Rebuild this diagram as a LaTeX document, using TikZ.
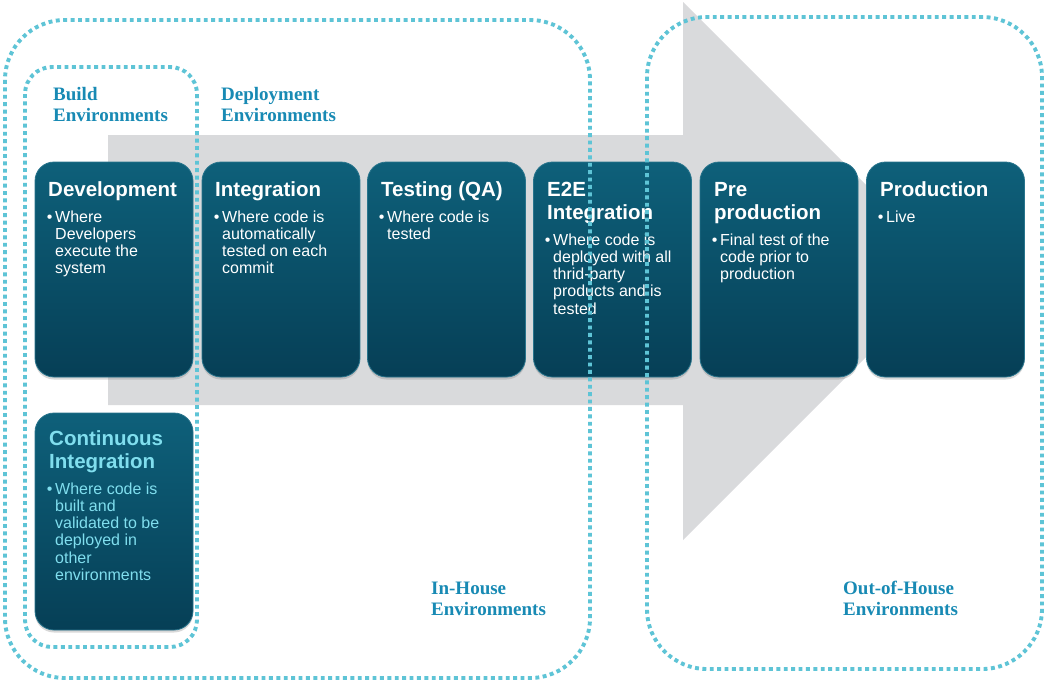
\documentclass[tikz,border=0pt]{standalone}
\usepackage{fontspec}
\setmainfont{Liberation Sans}
\newfontfamily\labelfont{Liberation Serif}
\usetikzlibrary{shadows}
\definecolor{arrowgray}{RGB}{217,218,220}
\definecolor{dotcol}{RGB}{94,196,214}
\definecolor{boxtop}{RGB}{14,96,122}
\definecolor{boxbot}{RGB}{6,63,86}
\definecolor{boxedge}{RGB}{40,116,140}
\definecolor{labcol}{RGB}{24,138,180}
\definecolor{cicol}{RGB}{128,222,238}
\begin{document}
\begin{tikzpicture}[x=1pt,y=-1pt,
 stage/.style={rectangle, rounded corners=19pt, minimum width=158pt, minimum height=215pt, inner sep=0pt, top color=boxtop, bottom color=boxbot, draw=boxedge, line width=0.8pt, drop shadow={shadow xshift=0pt, shadow yshift=-2.5pt, opacity=0.3}},
 stagetitle/.style={anchor=north west, inner sep=0pt, align=left, text=white, font=\fontsize{20.5}{23}\selectfont\bfseries},
 stagebody/.style={anchor=north west, inner sep=0pt, align=left, text=white, font=\fontsize{16}{17.2}\selectfont},
 envlabel/.style={anchor=north west, inner sep=0pt, align=left, text=labcol, font=\labelfont\fontsize{19}{21}\selectfont\bfseries},
 dotline/.style={draw=dotcol, line width=3.9pt, dash pattern=on 3.9pt off 3.5pt}]
\useasboundingbox (0,0) rectangle (1048,681);
\fill[white] (0,0) rectangle (1048,681);
% big gray arrow
\fill[arrowgray] (108,135) -- (683,135) -- (683,2) -- (952,271) -- (683,540) -- (683,405) -- (108,405) -- cycle;
% stage boxes
\node[stage] (dev) at (114,269.5) {};
\node[stage] (integ) at (281,269.5) {};
\node[stage] (test) at (446.5,269.5) {};
\node[stage] (e2e) at (612.5,269.5) {};
\node[stage] (pre) at (779,269.5) {};
\node[stage] (prod) at (945.5,269.5) {};
\node[stage, minimum height=217pt] (ci) at (114,521.5) {};
% titles
\node[stagetitle] (devT) at (48,180) {\strut Development};
\node[stagetitle] (integT) at (215,180) {\strut Integration};
\node[stagetitle] (testT) at (381,180) {\strut Testing (QA)};
\node[stagetitle] (e2eT) at (547,180) {\strut E2E\\Integration};
\node[stagetitle] (preT) at (714,180) {\strut Pre\\production};
\node[stagetitle] (prodT) at (880,180) {\strut Production};
\node[stagetitle, text=cicol] (ciT) at (49,429) {\strut Continuous\\Integration};
% bodies
\node[stagebody] (devB) at (55,210) {\strut\llap{•\,}Where\\Developers\\execute the\\system};
\node[stagebody] (integB) at (222,210) {\strut\llap{•\,}Where code is\\automatically\\tested on each\\commit};
\node[stagebody] (testB) at (387,210) {\strut\llap{•\,}Where code is\\tested};
\node[stagebody] (e2eB) at (553,233) {\strut\llap{•\,}Where code is\\deployed with all\\thrid-party\\products and is\\tested};
\node[stagebody] (preB) at (720,233) {\strut\llap{•\,}Final test of the\\code prior to\\production};
\node[stagebody] (prodB) at (886,210) {\strut\llap{•\,}Live};
\node[stagebody, text=cicol] (ciB) at (55,482) {\strut\llap{•\,}Where code is\\built and\\validated to be\\deployed in\\other\\environments};
% dotted environment frames
\draw[dotline, rounded corners=60pt] (5,20) rectangle (590,678);
\draw[dotline, rounded corners=27pt] (25,67) rectangle (197,647);
\draw[dotline, rounded corners=60pt] (647,17) rectangle (1042,669);
% environment labels
\node[envlabel] (buildL) at (53,86) {\strut Build\\Environments};
\node[envlabel] (deplL) at (221,86) {\strut Deployment\\Environments};
\node[envlabel] (inL) at (431,580) {\strut In-House\\Environments};
\node[envlabel] (outL) at (843,580) {\strut Out-of-House\\Environments};
\end{tikzpicture}
\end{document}
